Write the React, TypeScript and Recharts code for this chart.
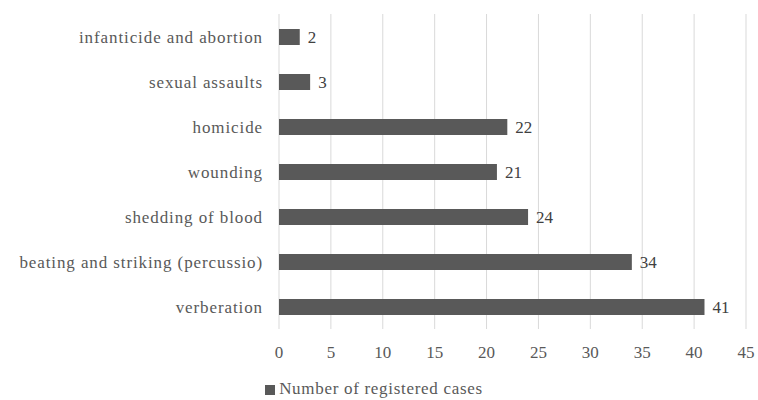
import { BarChart, Bar, XAxis, YAxis, CartesianGrid, Legend, LabelList } from "recharts";

const categories = [
  "infanticide and abortion",
  "sexual assaults",
  "homicide",
  "wounding",
  "shedding of blood",
  "beating and striking (percussio)",
  "verberation",
];
const cases = [2, 3, 22, 21, 24, 34, 41];
const xTicks = [0, 5, 10, 15, 20, 25, 30, 35, 40, 45];

const data = categories.map((name, i) => ({ name, cases: cases[i] }));

const FONT = "'Liberation Serif', 'DejaVu Serif', serif";
const GREY = "#595959";

export default function App() {
  return (
    <div style={{ position: "absolute", left: 0, top: 0, background: "#fff", fontFamily: FONT }}>
      <BarChart
        layout="vertical"
        width={758}
        height={400}
        data={data}
        margin={{ top: 14, right: 12, bottom: 3, left: 0 }}
        barSize={16}
      >
        <CartesianGrid horizontal={false} stroke="#d9d9d9" />
        <XAxis
          type="number"
          domain={[0, 45]}
          ticks={xTicks}
          axisLine={false}
          tickLine={false}
          tickSize={0}
          tickMargin={17}
          height={48}
          tick={{ fill: GREY, fontSize: 17, fontFamily: FONT }}
        />
        <YAxis
          type="category"
          dataKey="name"
          width={279}
          axisLine={false}
          tickLine={false}
          tickSize={0}
          tickMargin={16}
          tick={{ fill: GREY, fontSize: 17, fontFamily: FONT, letterSpacing: 0.9 }}
        />
        <Legend
          verticalAlign="bottom"
          iconType="square"
          iconSize={10}
          wrapperStyle={{ left: 0, width: 758, bottom: 1, fontFamily: FONT, fontSize: 17, letterSpacing: 0.7 }}
          formatter={(v) => <span style={{ color: GREY }}>{v}</span>}
        />
        <Bar dataKey="cases" name="Number of registered cases" fill={GREY} isAnimationActive={false}>
          <LabelList dataKey="cases" position="right" offset={8} fill="#404040" fontSize={17} fontFamily={FONT} />
        </Bar>
      </BarChart>
    </div>
  );
}
